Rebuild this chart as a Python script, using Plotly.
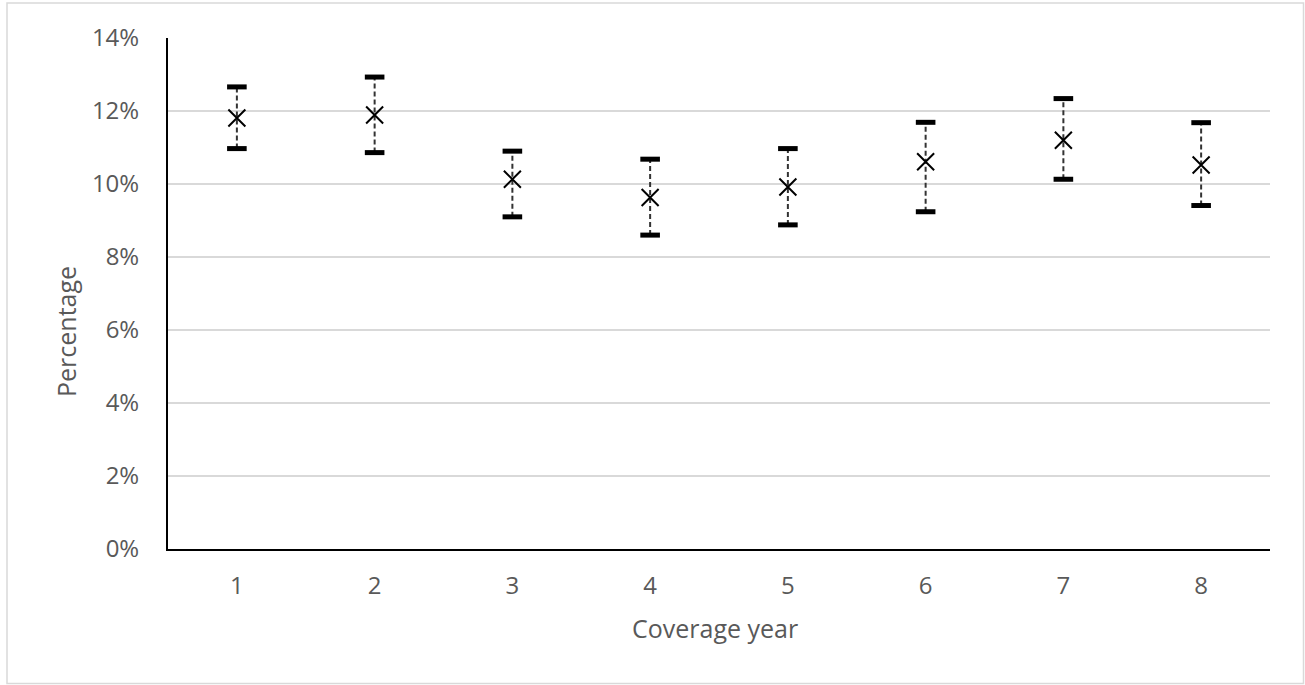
import plotly.graph_objects as go

years = [1, 2, 3, 4, 5, 6, 7, 8]
estimate = [11.81, 11.89, 10.13, 9.63, 9.92, 10.61, 11.20, 10.52]
upper = [12.66, 12.93, 10.90, 10.68, 10.97, 11.69, 12.34, 11.68]
lower = [10.97, 10.86, 9.10, 8.60, 8.88, 9.24, 10.13, 9.41]
y_ticks = [0, 2, 4, 6, 8, 10, 12, 14]
y_tick_labels = ["0%", "2%", "4%", "6%", "8%", "10%", "12%", "14%"]

FONT = "Open Sans"
TXT = "#595959"

# dashed whiskers
wx, wy = [], []
for x, lo, hi in zip(years, lower, upper):
    wx += [x, x, None]
    wy += [lo, hi, None]

fig = go.Figure()
fig.add_trace(go.Scatter(x=wx, y=wy, mode="lines",
                         line=dict(color="#333333", width=2, dash="5px,3px"),
                         hoverinfo="skip", showlegend=False))
fig.add_trace(go.Scatter(x=years + years, y=upper + lower, mode="markers",
                         marker=dict(symbol="line-ew", size=14,
                                     line=dict(color="black", width=5)),
                         showlegend=False))
fig.add_trace(go.Scatter(x=years, y=estimate, mode="markers",
                         marker=dict(symbol="x-thin", size=17, color="black",
                                     line=dict(color="black", width=2)),
                         showlegend=False))

fig.update_layout(
    width=1305, height=685,
    margin=dict(l=168, r=35, t=38, b=136),
    paper_bgcolor="white", plot_bgcolor="white",
    font=dict(family=FONT, size=24, color=TXT),
    xaxis=dict(range=[0.5, 8.5], tickvals=years, ticktext=[str(y) for y in years],
               showgrid=False, showline=True, linecolor="black", linewidth=2,
               ticks="", zeroline=False, ticklabelstandoff=14,
               tickfont=dict(family=FONT, size=24, color=TXT)),
    yaxis=dict(range=[0, 14], tickvals=y_ticks, ticktext=y_tick_labels,
               showgrid=True, gridcolor="#d9d9d9", gridwidth=1.5,
               showline=True, linecolor="black", linewidth=2,
               ticks="", zeroline=False, ticklabelstandoff=22,
               tickfont=dict(family=FONT, size=24, color=TXT)),
    annotations=[
        dict(text="Coverage year", xref="paper", yref="paper",
             x=(715 - 168) / 1102, y=(549 - 628) / 511, showarrow=False,
             xanchor="center", yanchor="middle",
             font=dict(family=FONT, size=25, color=TXT)),
        dict(text="Percentage", xref="paper", yref="paper",
             x=(66 - 168) / 1102, y=(549 - 332) / 511, showarrow=False,
             textangle=-90, xanchor="center", yanchor="middle",
             font=dict(family=FONT, size=25, color=TXT)),
    ],
    shapes=[
        dict(type="rect", xref="paper", yref="paper",
             x0=(7 - 168) / 1102, x1=(1303.5 - 168) / 1102,
             y0=(549 - 683.5) / 511, y1=(549 - 3) / 511,
             line=dict(color="#d9d9d9", width=1.5), layer="below"),
    ],
)

fig.write_html("out.html")
